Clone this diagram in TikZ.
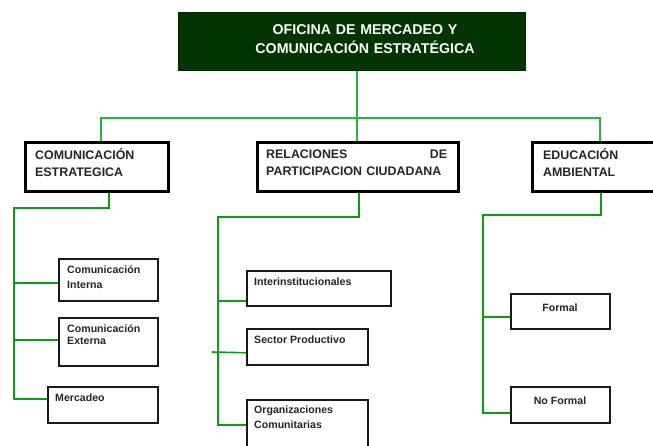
\documentclass[tikz,border=0pt]{standalone}
\usepackage{fontspec}
\setmainfont{Liberation Sans}
\definecolor{topgreen}{HTML}{033503}
\definecolor{upline}{HTML}{22B83A}
\definecolor{lowline}{HTML}{0A9E14}
\begin{document}
\begin{tikzpicture}[x=1pt,y=-1pt,
  topbox/.style={draw=topgreen!70!black,line width=0.8pt,fill=topgreen,inner sep=0,anchor=north west},
  box2/.style={draw=black,line width=3pt,fill=white,inner sep=0,anchor=north west},
  box3/.style={draw=black!90,line width=1.5pt,fill=white,inner sep=0,anchor=north west},
  ttop/.style={text=white,font=\fontsize{14.2}{19}\selectfont\bfseries,align=center,text width=300pt,inner sep=0,anchor=base},
  t2/.style={text=black!85,font=\fontsize{12.4}{17}\selectfont\bfseries,align=left,inner sep=0,anchor=base west},
  t3/.style={text=black!85,font=\fontsize{10.6}{15}\selectfont\bfseries,align=left,inner sep=0,anchor=base west},
  t3c/.style={text=black!85,font=\fontsize{10.6}{15}\selectfont\bfseries,inner sep=0,anchor=base},
  upconn/.style={draw=upline,line width=1.6pt},
  lowconn/.style={draw=lowline,line width=2pt},
  brconn/.style={draw=lowline,line width=1.6pt}]
\useasboundingbox (0,0) rectangle (653,445);
\fill[white] (0,0) rectangle (653,445);
\clip (0,0) rectangle (653,445);

% junction coordinates
\coordinate (j0) at (357,118);
\coordinate (j1) at (101,118);
\coordinate (j3) at (600,118);
\coordinate (k1) at (109,208);
\coordinate (v1) at (14,208);
\coordinate (k2) at (359,217);
\coordinate (v2) at (218,217);
\coordinate (s2) at (212,352);
\coordinate (k3) at (601,215);
\coordinate (v3) at (483,215);

% boxes
\node[topbox,minimum width=347pt,minimum height=58pt] (top) at (178,12) {};
\node[box2,minimum width=143pt,minimum height=49pt] (ce) at (24,141) {};
\node[box2,minimum width=201pt,minimum height=49pt] (re) at (256,141) {};
\node[box2,minimum width=130pt,minimum height=49pt] (ed) at (531,141) {};
\node[box3,minimum width=99pt,minimum height=42pt] (ci) at (58,258) {};
\node[box3,minimum width=99pt,minimum height=48pt] (cx) at (58,317) {};
\node[box3,minimum width=110pt,minimum height=36pt] (me) at (47,386) {};
\node[box3,minimum width=144pt,minimum height=35pt] (ii) at (246,270) {};
\node[box3,minimum width=121pt,minimum height=36pt] (sp) at (246,328) {};
\node[box3,minimum width=121pt,minimum height=55pt] (oc) at (246,399) {};
\node[box3,minimum width=99pt,minimum height=35pt] (fo) at (510,293) {};
\node[box3,minimum width=99pt,minimum height=36pt] (nf) at (510,386) {};

% connectors, upper level
\draw[upconn] (top.south -| j0) -- (j0);
\draw[upconn] (ce.north -| j1) -- (j1) -- (j3) -- (ed.north -| j3);
\draw[upconn] (re.north -| j0) -- (j0);

% connectors, lower level
\draw[lowconn] (ce.south -| k1) -- (k1) -- (v1) |- ([yshift=6pt]me.west);
\draw[brconn] ([yshift=-3pt]ci.west -| v1) -- ([yshift=-3pt]ci.west);
\draw[brconn] ([yshift=2pt]cx.west -| v1) -- ([yshift=2pt]cx.west);

\draw[lowconn] (re.south -| k2) -- (k2) -- (v2) |- ([yshift=2pt]oc.west);
\draw[brconn] ([yshift=-12.5pt]ii.west -| v2) -- ([yshift=-12.5pt]ii.west);
\draw[brconn] (s2) -- ([yshift=-6pt]sp.west);

\draw[lowconn] (ed.south -| k3) -- (k3) -- (v3) |- ([yshift=-8pt]nf.west);
\draw[brconn] ([yshift=-5.5pt]fo.west -| v3) -- ([yshift=-5.5pt]fo.west);

% texts
\node[ttop] (topt) at (365,34) {OFICINA DE MERCADEO Y\\COMUNICACIÓN ESTRATÉGICA};
\node[t2,text width=120pt] (cet) at (35,159) {COMUNICACIÓN\\ESTRATEGICA};
\node[t2,text width=181pt] (ret) at (266,158) {RELACIONES\hfill DE\\PARTICIPACION CIUDADANA};
\node[t2,text width=100pt] (edt) at (543,159) {EDUCACIÓN\\AMBIENTAL};
\node[t3,text width=90pt] (cit) at (67,273) {Comunicación\\Interna};
\node[t3,text width=90pt] (cxt) at (67,332) {Comunicación\\[-3pt]Externa};
\node[t3] (met) at (55,401.5) {Mercadeo};
\node[t3] (iit) at (254,285) {Interinstitucionales};
\node[t3] (spt) at (254,343) {Sector Productivo};
\node[t3,text width=110pt] (oct) at (254,413.5) {Organizaciones\\Comunitarias};
\node[t3c] (fot) at (560,311) {Formal};
\node[t3c] (nft) at (560,404) {No Formal};
\end{tikzpicture}
\end{document}
